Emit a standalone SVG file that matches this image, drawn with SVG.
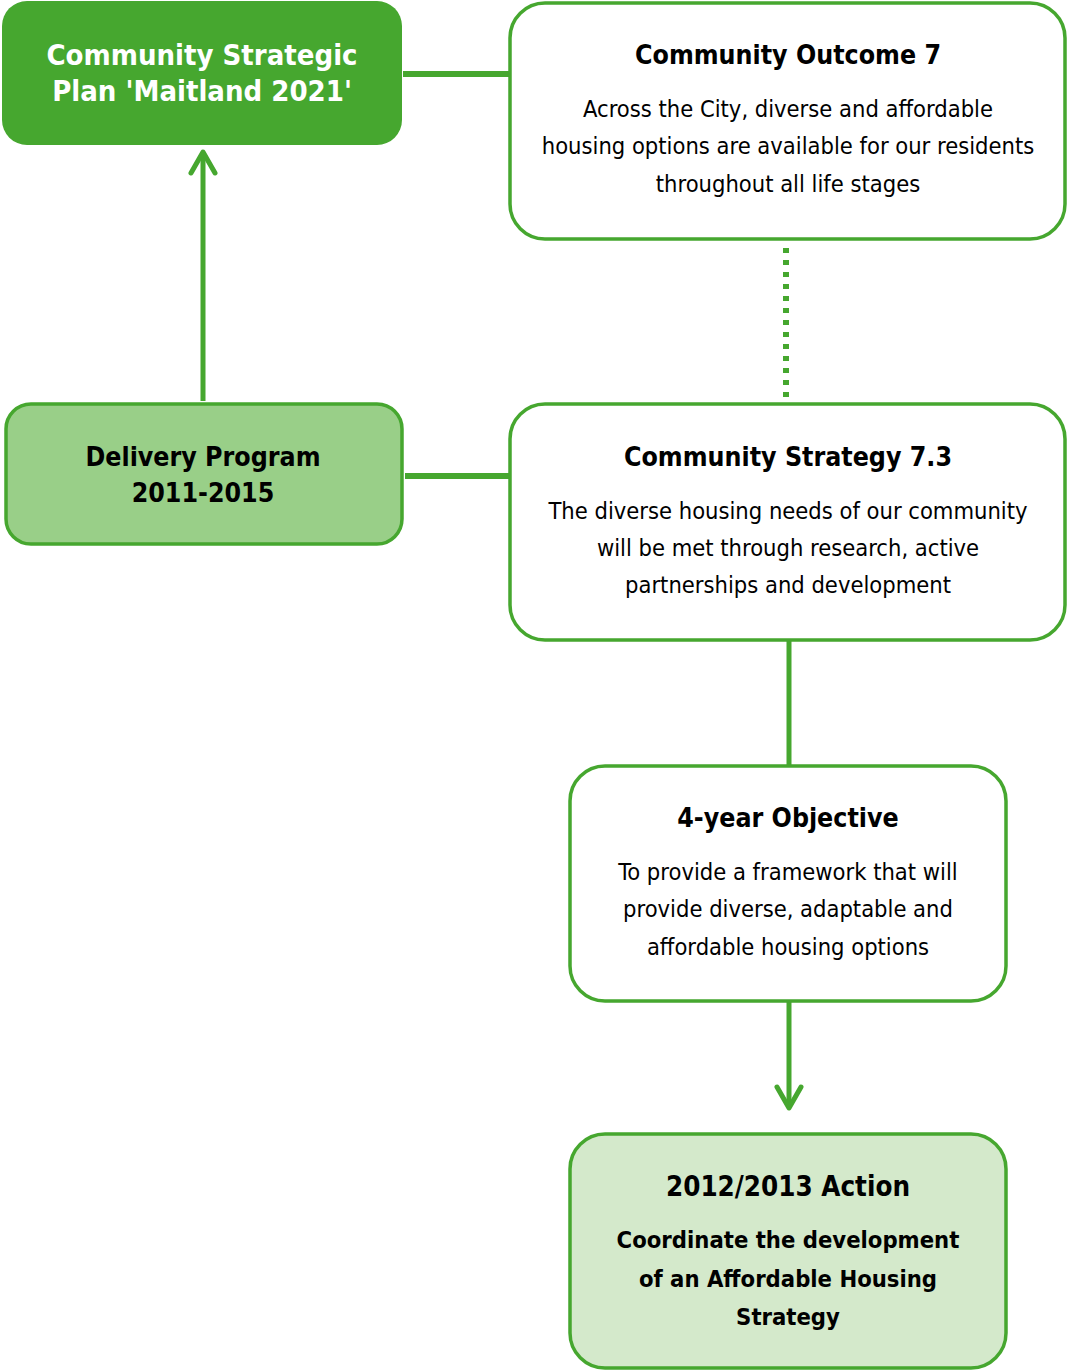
<svg xmlns="http://www.w3.org/2000/svg" width="1067" height="1371" viewBox="0 0 1067 1371">
<defs>
<style>
.box{stroke:#46A72F;stroke-width:3.5}
.t{font-family:"DejaVu Sans Condensed","DejaVu Sans",sans-serif;text-anchor:middle;fill:#000}
.h{font-weight:bold;font-size:26.5px}
.b{font-size:23.5px}
.bb{font-weight:bold;font-size:23.6px}
.w{fill:#fff;font-size:29px}
.ln{stroke:#46A72F;fill:none}
</style>
</defs>
<g id="connectors">
<line class="ln" x1="403" y1="74" x2="509" y2="74" stroke-width="6"/>
<line class="ln" x1="786" y1="248" x2="786" y2="398" stroke-width="6" stroke-dasharray="5,7"/>
<line class="ln" x1="405" y1="476" x2="509" y2="476" stroke-width="6"/>
<line class="ln" x1="203" y1="401" x2="203" y2="152" stroke-width="5"/>
<polyline class="ln" points="191,173 203,152 215,173" stroke-width="5" stroke-linecap="round" stroke-linejoin="round"/>
<line class="ln" x1="789" y1="641" x2="789" y2="765" stroke-width="5"/>
<line class="ln" x1="789" y1="1002" x2="789" y2="1105" stroke-width="5"/>
<polyline class="ln" points="777,1087 789,1108 801,1087" stroke-width="5" stroke-linecap="round" stroke-linejoin="round"/>
</g>
<g id="csp">
<rect x="2" y="1" width="400" height="144" rx="25" fill="#46A72F"/>
<text class="t h w" x="202" y="65">Community Strategic</text>
<text class="t h w" x="202" y="101">Plan 'Maitland 2021'</text>
</g>
<g id="outcome7">
<rect class="box" x="510" y="3" width="555" height="236" rx="35" fill="#fff"/>
<text class="t h" x="788" y="64">Community Outcome 7</text>
<text class="t b" x="788" y="117">Across the City, diverse and affordable</text>
<text class="t b" x="788" y="154">housing options are available for our residents</text>
<text class="t b" x="788" y="192">throughout all life stages</text>
</g>
<g id="delivery">
<rect class="box" x="6" y="404" width="396" height="140" rx="25" fill="#99CF88"/>
<text class="t h" x="203" y="466">Delivery Program</text>
<text class="t h" x="203" y="502">2011-2015</text>
</g>
<g id="strategy">
<rect class="box" x="510" y="404" width="555" height="236" rx="35" fill="#fff"/>
<text class="t h" x="788" y="466">Community Strategy 7.3</text>
<text class="t b" x="788" y="519">The diverse housing needs of our community</text>
<text class="t b" x="788" y="556">will be met through research, active</text>
<text class="t b" x="788" y="593">partnerships and development</text>
</g>
<g id="objective">
<rect class="box" x="570" y="766" width="436" height="235" rx="35" fill="#fff"/>
<text class="t h" x="788" y="827">4-year Objective</text>
<text class="t b" x="788" y="880">To provide a framework that will</text>
<text class="t b" x="788" y="917">provide diverse, adaptable and</text>
<text class="t b" x="788" y="955">affordable housing options</text>
</g>
<g id="action">
<rect class="box" x="570" y="1134" width="436" height="234" rx="35" fill="#D4E9CB"/>
<text class="t h" x="788" y="1196" style="font-size:27.5px">2012/2013 Action</text>
<text class="t bb" x="788" y="1248">Coordinate the development</text>
<text class="t bb" x="788" y="1287">of an Affordable Housing</text>
<text class="t bb" x="788" y="1325">Strategy</text>
</g>
</svg>
